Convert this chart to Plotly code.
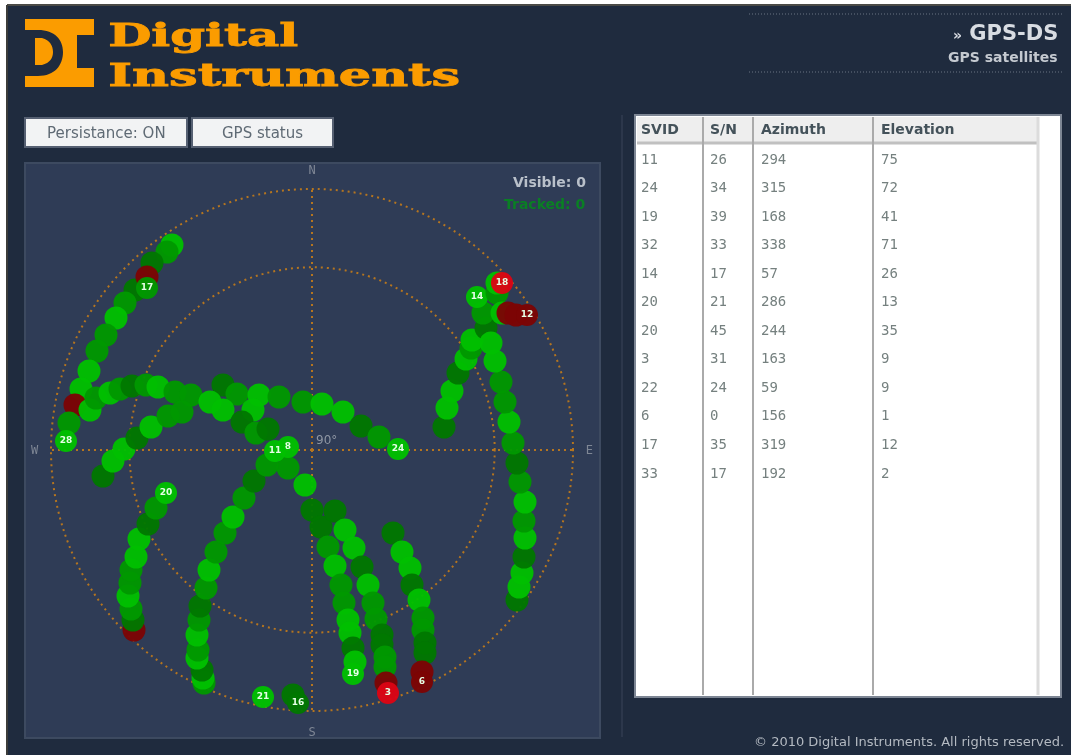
import numpy as np
import plotly.graph_objects as go

# ---------- sky-plot tracks ----------
# east / north offsets from zenith (horizon = 261), signal class of each fix
T17_E = [-140, -145, -160, -165, -165]
T17_N = [205, 198, 187, 173, 162]
T17_S = [4, 3, 2, 1, 3]
T28_E = [-177, -187, -196, -206, -215, -223, -231, -237, -243, -246]
T28_N = [160, 147, 132, 115, 99, 79, 61, 45, 27, 9]
T28_S = [2, 3, 4, 3, 3, 4, 4, 1, 3, 4]
T24_E = [-222, -216, -202, -192, -180, -166, -154, -137, -121, -89, -75, -53, -33, -9, 10, 31, 49, 67, 86]
T24_N = [40, 52, 57, 61, 64, 65, 63, 58, 55, 65, 56, 55, 53, 48, 46, 38, 24, 13, 1]
T24_S = [4, 3, 4, 3, 2, 3, 4, 3, 3, 2, 3, 4, 3, 3, 4, 4, 2, 3, 4]
T11A_E = [-209, -199, -188, -175, -161, -144, -130, -102, -59, -89, -70, -56, -44]
T11A_N = [-26, -11, 1, 12, 23, 34, 38, 48, 40, 40, 28, 17, 21]
T11A_S = [2, 4, 4, 2, 4, 3, 3, 4, 4, 4, 2, 3, 2]
T11_E = [-108, -109, -110, -115, -114, -115, -113, -112, -106, -103, -96, -87, -79, -68, -58, -45, -37]
T11_N = [-233, -228, -220, -208, -200, -185, -170, -156, -138, -120, -102, -83, -67, -48, -31, -15, -1]
T11_S = [3, 4, 2, 4, 3, 4, 3, 2, 3, 4, 3, 3, 4, 3, 2, 3, 4]
T19_E = [-24, -7, 0, 9, 16, 23, 29, 32, 36, 38, 41, 43, 41]
T19_N = [-18, -35, -60, -77, -97, -116, -135, -153, -170, -183, -198, -212, -224]
T19_S = [3, 4, 2, 2, 3, 4, 3, 3, 4, 4, 2, 4, 4]
T8_E = [-24]
T8_N = [3]
T8_S = [4]
T12_E = [205, 207, 210, 212, 213, 212, 213, 208, 205, 201, 197, 193, 189, 183, 179, 190, 196, 204, 215]
T12_N = [-150, -137, -123, -107, -88, -71, -52, -32, -13, 7, 28, 48, 68, 89, 107, 137, 137, 135, 135]
T12_S = [2, 4, 4, 2, 4, 3, 4, 3, 2, 3, 4, 3, 3, 4, 4, 4, 1, 1, 1]
T14_E = [132, 135, 140, 146, 154, 159, 160, 174, 171, 165]
T14_N = [23, 42, 59, 77, 91, 102, 110, 122, 137, 153]
T14_S = [2, 4, 4, 2, 4, 3, 4, 2, 3, 4]
T18_E = [185, 185, 190]
T18_N = [157, 167, 167]
T18_S = [3, 4, 0]
T20_E = [-178, -179, -181, -184, -182, -181, -176, -173, -164, -156, -146]
T20_N = [-180, -170, -159, -146, -133, -120, -107, -89, -74, -58, -43]
T20_S = [1, 2, 3, 4, 3, 3, 4, 4, 2, 3, 4]
T3_E = [23, 33, 42, 50, 56, 61, 64, 70, 70, 73, 73, 74, 76]
T3_N = [-61, -80, -98, -117, -135, -153, -169, -185, -195, -207, -217, -233, -243]
T3_S = [2, 4, 4, 2, 4, 3, 3, 2, 2, 3, 3, 1, 0]
T6_E = [81, 90, 98, 100, 107, 111, 111, 113, 113, 110, 110]
T6_N = [-83, -102, -118, -135, -150, -168, -180, -193, -203, -222, -232]
T6_S = [2, 4, 4, 2, 4, 3, 3, 2, 2, 1, 1]
T21_E = [-49]
T21_N = [-247]
T21_S = [4]
T16_E = [-19, -14]
T16_N = [-245, -253]
T16_S = [2, 2]

TRACKS = [
    ("28", T28_E, T28_N, T28_S), ("17", T17_E, T17_N, T17_S),
    ("24", T24_E, T24_N, T24_S), ("", T11A_E, T11A_N, T11A_S),
    ("19", T19_E, T19_N, T19_S), ("8", T8_E, T8_N, T8_S),
    ("11", T11_E, T11_N, T11_S), ("14", T14_E, T14_N, T14_S),
    ("18", T18_E, T18_N, T18_S), ("12", T12_E, T12_N, T12_S),
    ("20", T20_E, T20_N, T20_S), ("3", T3_E, T3_N, T3_S),
    ("6", T6_E, T6_N, T6_S), ("21", T21_E, T21_N, T21_S),
    ("16", T16_E, T16_N, T16_S),
]

# ---------- table ----------
COLUMNS = ["SVID", "S/N", "Azimuth", "Elevation"]
SVID = ["11", "24", "19", "32", "14", "20", "20", "3", "22", "6", "17", "33"]
SNR = ["26", "34", "39", "33", "17", "21", "45", "31", "24", "0", "35", "17"]
AZIMUTH = ["294", "315", "168", "338", "57", "286", "244", "163", "59", "156", "319", "192"]
ELEVATION = ["75", "72", "41", "71", "26", "13", "35", "9", "9", "1", "12", "2"]

# ---------- style ----------
W, H = 1071, 755
CX, CY, R = 312, 450, 261
EDGE = 91                      # radial axis runs a little past the horizon so its ring is drawn
RP = R * EDGE / 90
PALETTE = {0: "#dc0414", 1: "#7c0404", 2: "#007800", 3: "#009800", 4: "#00c000"}
ORANGE = "#b5751f"
PAGE = "#1f2b3e"
PANEL = "#2f3c56"
MONO = "DejaVu Sans Mono, monospace"
SANS = "DejaVu Sans, sans-serif"
SERIF = "DejaVu Serif, serif"

fig = go.Figure()

# table text lives on a hidden page-sized cartesian axis
COL_X = [641, 710, 761, 881]
ROW_Y = [160 + 28.55 * i for i in range(len(SVID))]
for cx, vals in zip(COL_X, [SVID, SNR, AZIMUTH, ELEVATION]):
    fig.add_trace(go.Scatter(
        x=[cx] * len(vals), y=ROW_Y, text=vals, mode="text",
        textposition="middle right", hoverinfo="skip",
        textfont=dict(family=MONO, size=14, color="#75807f"),
        xaxis="x", yaxis="y", showlegend=False))

# satellite tracks
for label, east, north, signal in TRACKS:
    e, n = np.array(east, float), np.array(north, float)
    az = np.degrees(np.arctan2(e, n)) % 360
    el = 90 * (1 - np.hypot(e, n) / R)
    text = [""] * (len(e) - 1) + [label]
    size = [23] * (len(e) - 1) + [22 if label else 23]
    fig.add_trace(go.Scatterpolar(
        r=el, theta=az, mode="markers+text", text=text,
        textposition="middle center",
        textfont=dict(family=SANS, size=9, color="#e6ffe6", weight="bold"),
        marker=dict(size=size, color=[PALETTE[s] for s in signal], opacity=0.96,
                    line=dict(width=0)),
        cliponaxis=False, hoverinfo="skip", showlegend=False, subplot="polar"))


def rect(x0, y0, x1, y1, fill, line=None, lw=0, layer="below"):
    return dict(type="rect", xref="x", yref="y", x0=x0, y0=y0, x1=x1, y1=y1,
                fillcolor=fill, line=dict(color=line or fill, width=lw), layer=layer)


def vline(x, y0, y1, color, width=2, dash=None):
    return dict(type="line", xref="x", yref="y", x0=x, x1=x, y0=y0, y1=y1,
                line=dict(color=color, width=width, dash=dash), layer="below")


def hline(y, x0, x1, color, width=2, dash=None):
    return dict(type="line", xref="x", yref="y", x0=x0, x1=x1, y0=y, y1=y,
                line=dict(color=color, width=width, dash=dash), layer="below")


LOGO = ("M25,19 L94,19 L94,35 L77,35 L77,68 L94,68 L94,87 L25,87 L25,76 L38,76 "
        "C55,76 63,65 63,52 C63,40 55,30 38,30 L25,30 Z "
        "M35,38 L42,38 C50,40 53,46 53,52 C53,58 50,63 42,65 L35,65 Z")

shapes = [
    rect(7, 5, W, H, PAGE),
    hline(5, 7, W, "#4a4a46", 2),
    vline(7, 5, H, "#3c3c3a", 2),
    dict(type="path", xref="x", yref="y", path=LOGO, fillcolor="#fb9c00",
         line=dict(width=0), layer="below"),
    hline(14, 749, 1062, "#6a7482", 1, "1px,2px"),
    hline(72, 749, 1062, "#6a7482", 1, "1px,2px"),
    rect(25, 118, 187, 147, "#f2f3f4", "#566072", 2),
    rect(192, 118, 333, 147, "#f2f3f4", "#566072", 2),
    rect(25, 163, 600, 738, PANEL, "#3d4a60", 2),
    vline(622, 115, 737, "#3a4558", 1),
    rect(635, 115, 1061, 697, "#ffffff", "#7d8694", 2),
    rect(637, 117, 1037, 142, "#eeeeee"),
    hline(143, 637, 1037, "#c0c0c0", 3),
    vline(1038, 117, 695, "#dcdcdc", 3),
    vline(703, 117, 695, "#aaaaaa", 2),
    vline(753, 117, 695, "#aaaaaa", 2),
    vline(873, 117, 695, "#aaaaaa", 2),
]


def note(x, y, text, size, color, family=SANS, anchor="left"):
    return dict(x=x, y=y, xref="x", yref="y", text=text, showarrow=False,
                xanchor=anchor, yanchor="middle",
                font=dict(family=family, size=size, color=color))


annotations = [
    note(203, 35, "<b>Digital</b>", 31, "#fb9c00", SERIF, "center"),
    note(284, 75, "<b>Instruments</b>", 31, "#fb9c00", SERIF, "center"),
    note(1060, 33, "<b><span style='font-size:14px'>»</span> GPS-DS</b>", 21, "#d8dce2", anchor="right"),
    note(1060, 57, "<b>GPS satellites</b>", 14, "#c4c9d0", anchor="right"),
    note(106, 133, "Persistance: ON", 15, "#5f6a74", anchor="center"),
    note(262, 133, "GPS status", 15, "#5f6a74", anchor="center"),
    note(588, 182, "<b>Visible: 0</b>", 14, "#b9c0ca", anchor="right"),
    note(588, 204, "<b>Tracked: 0</b>", 14, "#0a7f24", anchor="right"),
    note(326, 440, "90°", 12, "#8e96a3", anchor="center"),
    note(1066, 741, "© 2010 Digital Instruments. All rights reserved.", 13, "#b4bac2", anchor="right"),
]
for cx, name in zip(COL_X, COLUMNS):
    annotations.append(note(cx - 2, 129, f"<b>{name}</b>", 14, "#44525a"))

fig.update_layout(
    width=W, height=H, autosize=False,
    margin=dict(l=0, r=0, t=0, b=0, pad=0),
    paper_bgcolor="#ffffff", plot_bgcolor="rgba(0,0,0,0)",
    showlegend=False, dragmode=False, hovermode=False,
    xaxis=dict(range=[0, W], domain=[0, 1], visible=False, fixedrange=True),
    yaxis=dict(range=[H, 0], domain=[0, 1], visible=False, fixedrange=True),
    shapes=shapes, annotations=annotations,
    polar=dict(
        domain=dict(x=[(CX - RP) / W, (CX + RP) / W],
                    y=[1 - (CY + RP) / H, 1 - (CY - RP) / H]),
        bgcolor="rgba(0,0,0,0)",
        radialaxis=dict(range=[90, 90 - EDGE], tickvals=[27, 0], showticklabels=False,
                        ticks="", showline=False, gridcolor=ORANGE, gridwidth=2,
                        griddash="2px,4px", angle=90),
        angularaxis=dict(rotation=90, direction="clockwise",
                         tickmode="array", tickvals=[0, 90, 180, 270],
                         ticktext=["N", "E", "S", "W"], showline=False,
                         ticks="outside", ticklen=7, tickcolor="rgba(0,0,0,0)",
                         gridcolor=ORANGE, gridwidth=2, griddash="2px,4px",
                         tickfont=dict(family=MONO, size=12, color="#7f8795")),
    ),
)

POST = """
document.body.style.margin='0';
document.body.style.overflow='hidden';
var widths={'Digital':190,'Instruments':352};
document.querySelectorAll('text.annotation-text').forEach(function(t){
  var w=widths[t.textContent];
  if(w){t.setAttribute('textLength',w);t.setAttribute('lengthAdjust','spacingAndGlyphs');
        t.style.stroke='#fb9c00';t.style.strokeWidth='0.8px';}
});
document.querySelector('.svg-container').style.filter='blur(0.6px)';
"""
fig.write_html("out.html", config={"displayModeBar": False}, post_script=POST)
